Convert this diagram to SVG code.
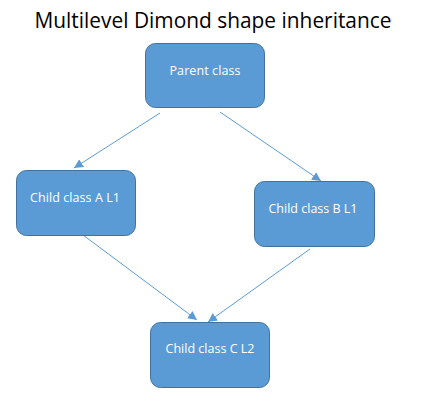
<svg xmlns="http://www.w3.org/2000/svg" width="424" height="415" viewBox="0 0 424 415">
<style>
.node rect{fill:#5B9BD5;stroke:#41719C;stroke-width:1}
.node text{fill:#fff;font-family:"Open Sans","Liberation Sans",sans-serif;font-size:12.5px;text-anchor:middle}
.conn line{stroke:#5B9BD5;stroke-width:1;marker-end:url(#ah)}
.title{font-family:"Open Sans","Liberation Sans",sans-serif;font-size:21px;fill:#000;text-anchor:middle}
</style>
<defs>
<marker id="ah" viewBox="0 0 10 10" refX="10" refY="5" markerWidth="9" markerHeight="9" markerUnits="userSpaceOnUse" orient="auto">
<path d="M0,0 L10,5 L0,10 z" fill="#5B9BD5"/>
</marker>
</defs>
<rect width="424" height="415" fill="#fff"/>
<text class="title" x="213" y="28" textLength="357" lengthAdjust="spacingAndGlyphs">Multilevel Dimond shape inheritance</text>
<g class="conn">
<line x1="160" y1="113" x2="74" y2="168"/>
<line x1="220" y1="112" x2="321" y2="181"/>
<line x1="83" y1="235" x2="197" y2="320"/>
<line x1="310" y1="249" x2="208" y2="322"/>
</g>
<g id="parent" class="node"><rect x="145.5" y="43.5" width="119" height="64" rx="10"/><text x="205" y="75" textLength="71">Parent class</text></g>
<g id="childA" class="node"><rect x="16.5" y="170.5" width="119" height="65" rx="10"/><text x="75" y="202" textLength="90">Child class A L1</text></g>
<g id="childB" class="node"><rect x="254.5" y="181.5" width="120" height="65" rx="10"/><text x="313" y="213" textLength="89">Child class B L1</text></g>
<g id="childC" class="node"><rect x="150.5" y="322.5" width="119" height="65" rx="10"/><text x="210" y="353" textLength="89">Child class C L2</text></g>
</svg>
